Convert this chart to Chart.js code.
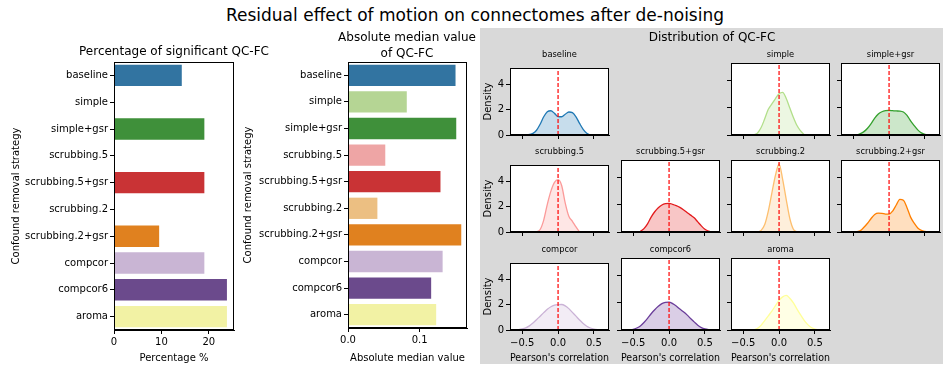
<!DOCTYPE html>
<html>
<head>
<meta charset="utf-8">
<script src="https://cdn.jsdelivr.net/npm/chart.js@4.4.0/dist/chart.umd.min.js"></script>
<style>
  body { margin: 0; background: #fff; }
  #fig { position: relative; width: 947px; height: 371px; overflow: hidden; font-family: 'DejaVu Sans', sans-serif; color: #000; }
  #fig canvas { position: absolute; }
  .txt { position: absolute; white-space: nowrap; text-align: center; }
  #panel { position: absolute; left: 480px; top: 28px; width: 463px; height: 336px; background: #d9d9d9; }
</style>
</head>
<body>
<div id="fig"><div id="panel"></div></div>
<script>
// Strategies and bar values
const strategies = ['baseline', 'simple', 'simple+gsr', 'scrubbing.5', 'scrubbing.5+gsr',
  'scrubbing.2', 'scrubbing.2+gsr', 'compcor', 'compcor6', 'aroma'];
const pctSignificant = [14.29, 0, 19.05, 0, 19.05, 0, 9.52, 19.05, 23.81, 23.81];
const absMedian = [0.150, 0.082, 0.151, 0.052, 0.129, 0.041, 0.158, 0.132, 0.116, 0.123];
const pctTicks = [0, 10, 20];
const medianTicks = [0, 0.1];

const barColors = ['#3274a1', '#b5d594', '#3f903a', '#eea5a5', '#c93335',
  '#ecbf82', '#e0811f', '#c9b5d4', '#6b4a8c', '#f2f2a4'];
const kdeColors = ['#1f78b4', '#b2df8a', '#33a02c', '#fb9a99', '#e31a1c',
  '#fdbf6f', '#ff7f00', '#cab2d6', '#6a3d9a', '#ffff99'];

// KDE of QC-FC at these correlation values
const corrGrid = [-0.65, -0.6, -0.55, -0.5, -0.45, -0.4, -0.35, -0.3, -0.25, -0.2, -0.15, -0.1, -0.05, 0,
  0.05, 0.1, 0.15, 0.2, 0.25, 0.3, 0.35, 0.4, 0.45, 0.5, 0.55, 0.6, 0.65];
const n = null;
const kdeBaseline = [n, n, n, n, 0, 0.04, 0.13, 0.38, 0.85, 1.45, 1.85, 1.93, 1.72, 1.47, 1.45, 1.65, 1.83, 1.78, 1.45, 0.92, 0.45, 0.14, 0, n, n, n, n];
const kdeSimple = [n, n, n, n, n, n, 0, 0.15, 0.55, 1.2, 1.9, 2.3, 2.7, 3.05, 3.15, 2.7, 2.0, 1.3, 0.7, 0.3, 0.03, n, n, n, n, n, n];
const kdeSimpleGsr = [n, n, n, n, 0, 0.1, 0.25, 0.5, 0.85, 1.25, 1.55, 1.72, 1.8, 1.82, 1.8, 1.78, 1.77, 1.7, 1.45, 1.05, 0.7, 0.38, 0.16, 0.05, 0, n, n];
const kdeScrub5 = [n, n, n, n, n, n, n, 0, 0.2, 0.95, 2.2, 3.25, 3.95, 4.17, 3.7, 2.3, 1.25, 0.85, 0.4, 0, n, n, n, n, n, n, n];
const kdeScrub5Gsr = [n, n, n, n, n, 0.05, 0.25, 0.6, 1.1, 1.5, 1.8, 2.0, 2.1, 2.12, 2.05, 1.95, 1.82, 1.65, 1.45, 1.25, 1.05, 0.75, 0.45, 0.2, 0.06, 0, n];
const kdeScrub2 = [n, n, n, n, n, n, n, 0, 0.12, 0.55, 1.55, 2.9, 4.2, 5.05, 3.9, 2.4, 1.0, 0.2, 0, n, n, n, n, n, n, n, n];
const kdeScrub2Gsr = [n, n, n, n, 0.02, 0.1, 0.35, 0.65, 1.0, 1.3, 1.4, 1.38, 1.33, 1.32, 1.55, 2.0, 2.42, 2.35, 1.8, 1.1, 0.65, 0.3, 0.12, 0.04, 0, n, n];
const kdeCompcor = [0, 0.01, 0.03, 0.08, 0.17, 0.33, 0.55, 0.82, 1.1, 1.38, 1.65, 1.85, 1.97, 2.02, 2.03, 1.92, 1.7, 1.4, 1.1, 0.8, 0.52, 0.3, 0.16, 0.07, 0.02, 0, n];
const kdeCompcor6 = [n, n, 0, 0.05, 0.15, 0.3, 0.55, 0.86, 1.2, 1.5, 1.75, 1.95, 2.05, 2.07, 1.95, 1.78, 1.55, 1.35, 1.12, 0.85, 0.6, 0.35, 0.18, 0.08, 0.03, 0.01, 0];
const kdeAroma = [n, n, n, n, n, n, 0.02, 0.12, 0.35, 0.7, 1.05, 1.4, 1.8, 2.2, 2.45, 2.56, 2.35, 2.0, 1.55, 1.12, 0.72, 0.4, 0.18, 0.06, 0, n, n];

const densityTicks = [0, 2, 4];
const corrTicks = [-0.5, 0, 0.5];
const densityMax = 5.33;
const corrMin = -0.67, corrMax = 0.71;

Chart.defaults.font.family = "'DejaVu Sans', sans-serif";
Chart.defaults.font.size = 10;
Chart.defaults.color = '#000';

const fig = document.getElementById('fig');

function addText(str, cx, cy, size) {
    const d = document.createElement('div');
    d.className = 'txt';
    d.textContent = str;
    d.style.fontSize = size + 'px';
    d.style.lineHeight = size + 'px';
    d.style.width = '800px';
    d.style.left = (cx - 400) + 'px';
    d.style.top = (cy - size / 2) + 'px';
    fig.appendChild(d);
}

function makeCanvas(l, t, w, h) {
    const c = document.createElement('canvas');
    c.width = w; c.height = h;
    c.style.left = l + 'px'; c.style.top = t + 'px';
    c.style.width = w + 'px'; c.style.height = h + 'px';
    fig.appendChild(c);
    return c;
}

// black frame round the axes, white face underneath
const spines = {
    id: 'spines',
    beforeDraw(chart) {
        const { ctx, chartArea: a } = chart;
        ctx.save();
        ctx.fillStyle = '#fff';
        ctx.fillRect(a.left, a.top, a.right - a.left, a.bottom - a.top);
        ctx.restore();
    },
    afterDraw(chart) {
        const { ctx, chartArea: a } = chart;
        ctx.save();
        ctx.strokeStyle = '#000';
        ctx.lineWidth = 1;
        ctx.strokeRect(Math.round(a.left) + 0.5, Math.round(a.top) + 0.5,
            Math.round(a.right - a.left) - 1, Math.round(a.bottom - a.top) - 1);
        ctx.restore();
    }
};

const tickGrid = () => ({ display: true, drawOnChartArea: false, drawTicks: true, tickLength: 4, color: '#000', lineWidth: 1 });
const axisBorder = () => ({ display: true, color: '#000', width: 1 });

function barChart(box, plot, values, xMax, xTicks, fmt, xTitle) {
    const c = makeCanvas(box.l, box.t, box.w, box.h);
    new Chart(c, {
        type: 'bar',
        data: {
            labels: strategies,
            datasets: [{ data: values, backgroundColor: barColors, categoryPercentage: 1, barPercentage: 0.8 }]
        },
        options: {
            indexAxis: 'y',
            responsive: false,
            animation: false,
            devicePixelRatio: 1,
            layout: { padding: { left: 0, top: plot.t - box.t, right: box.l + box.w - plot.r, bottom: 0 } },
            plugins: { legend: { display: false }, tooltip: { enabled: false } },
            scales: {
                x: {
                    type: 'linear', min: 0, max: xMax,
                    afterBuildTicks: ax => { ax.ticks = xTicks.map(v => ({ value: v })); },
                    afterFit: s => { s.height = box.t + box.h - plot.b; },
                    ticks: { callback: fmt, padding: 2, maxRotation: 0 },
                    grid: tickGrid(), border: axisBorder(),
                    title: { display: true, text: xTitle, padding: { top: 1, bottom: 2 } }
                },
                y: {
                    afterFit: s => { s.width = plot.l - box.l; },
                    ticks: { padding: 2 },
                    grid: Object.assign(tickGrid(), { offset: false }), border: axisBorder(),
                    title: { display: true, text: 'Confound removal strategy', padding: { top: 2, bottom: 2 } }
                }
            }
        },
        plugins: [spines]
    });
}

barChart({ l: 8, t: 40, w: 244, h: 326 }, { l: 114, t: 62, r: 234, b: 330 },
    pctSignificant, 25.3, pctTicks, v => String(v), 'Percentage %');
barChart({ l: 240, t: 25, w: 238, h: 341 }, { l: 348, t: 62, r: 467, b: 328 },
    absMedian, 0.166, medianTicks, v => v.toFixed(1), 'Absolute median value');

// density panels: [name, values, row, col]
const panels = [
    ['baseline', kdeBaseline, 0, 0], ['simple', kdeSimple, 0, 2], ['simple+gsr', kdeSimpleGsr, 0, 3],
    ['scrubbing.5', kdeScrub5, 1, 0], ['scrubbing.5+gsr', kdeScrub5Gsr, 1, 1],
    ['scrubbing.2', kdeScrub2, 1, 2], ['scrubbing.2+gsr', kdeScrub2Gsr, 1, 3],
    ['compcor', kdeCompcor, 2, 0], ['compcor6', kdeCompcor6, 2, 1], ['aroma', kdeAroma, 2, 2]
];
const colLeft = [510, 621, 731, 841];
const rowTop = [63, 160, 258];
const pw = 99, ph = 72;

const fmtCorr = v => (v < 0 ? '\u2212' : '') + Math.abs(v).toFixed(1);

panels.forEach(([name, vals, r, col]) => {
    const idx = strategies.indexOf(name);
    const plot = { l: colLeft[col], t: rowTop[r], r: colLeft[col] + pw, b: rowTop[r] + ph };
    const showY = col === 0;
    const showX = r === 2;
    const box = { l: showY ? 481 : plot.l - 8, t: plot.t - 3 };
    box.w = plot.r + 6 - box.l;
    box.h = plot.b + (showX ? 36 : 10) - box.t;
    const c = makeCanvas(box.l, box.t, box.w, box.h);
    const pts = [];
    corrGrid.forEach((x, i) => { if (vals[i] !== null) pts.push({ x: x, y: vals[i] }); });
    new Chart(c, {
        type: 'scatter',
        data: {
            datasets: [
                { data: [{ x: 0, y: 0 }, { x: 0, y: densityMax }], showLine: true, borderColor: '#ff0000',
                  borderWidth: 1.2, borderDash: [4, 2], pointRadius: 0 },
                { data: pts, showLine: true, borderColor: kdeColors[idx], borderWidth: 1.3,
                  backgroundColor: kdeColors[idx] + '40', fill: 'origin', pointRadius: 0,
                  cubicInterpolationMode: 'monotone' }
            ]
        },
        options: {
            responsive: false,
            animation: false,
            devicePixelRatio: 1,
            layout: { padding: { left: 0, top: plot.t - box.t, right: box.l + box.w - plot.r, bottom: 0 } },
            plugins: { legend: { display: false }, tooltip: { enabled: false } },
            scales: {
                x: {
                    type: 'linear', min: corrMin, max: corrMax,
                    afterBuildTicks: ax => { ax.ticks = corrTicks.map(v => ({ value: v })); },
                    afterFit: s => { s.height = box.t + box.h - plot.b; },
                    ticks: { display: showX, callback: fmtCorr, padding: 3, maxRotation: 0 },
                    grid: tickGrid(), border: axisBorder(),
                    title: { display: showX, text: "Pearson's correlation", padding: { top: 1, bottom: 2 } }
                },
                y: {
                    type: 'linear', min: 0, max: densityMax,
                    afterBuildTicks: ax => { ax.ticks = densityTicks.map(v => ({ value: v })); },
                    afterFit: s => { s.width = plot.l - box.l; },
                    ticks: { display: showY, padding: 2 },
                    grid: tickGrid(), border: axisBorder(),
                    title: { display: showY, text: 'Density', padding: { top: 1, bottom: 2 } }
                }
            }
        },
        plugins: [spines]
    });
    addText(name, (plot.l + plot.r) / 2, plot.t - 9, 8.3);
});

addText('Residual effect of motion on connectomes after de-noising', 475, 15, 17);
addText('Percentage of significant QC-FC', 174, 51, 12);
addText('Absolute median value', 407, 37, 12);
addText('of QC-FC', 407, 53, 12);
addText('Distribution of QC-FC', 712, 37, 12);
</script>
</body>
</html>
